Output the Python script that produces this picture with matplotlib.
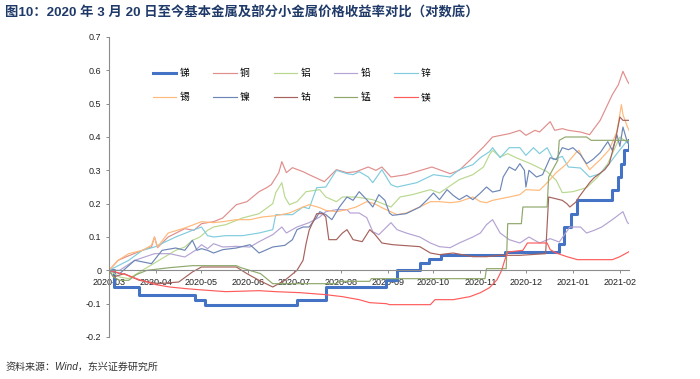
import matplotlib
matplotlib.use('Agg')
import matplotlib.pyplot as plt
import matplotlib.dates as mdates
from matplotlib.ticker import FixedLocator, FixedFormatter
import numpy as np
import pandas as pd

# ---------------- data ----------------
START = '2020-03-20'
END_DAY = 343  # last observation, days after START

names = ['锑', '铜', '铝', '铅', '锌', '锡', '镍', '钴', '锰', '镁']
colors = ['#4472C4', '#E08E8C', '#B9D88F', '#B4A3D3', '#80CCDE',
          '#FFB97A', '#6D86B6', '#A6625C', '#8FA86B', '#FF5B5B']

# 锑 (stepwise)
sb_days = [0, 3, 20, 57, 63, 124, 143, 183, 190, 205, 211, 219, 261, 297, 300, 305, 309, 332, 336, 338, 340, 343]
sb_vals = [0, -0.05, -0.075, -0.09, -0.105, -0.09, -0.05, -0.03, 0.0, 0.023, 0.035, 0.047, 0.054, 0.08, 0.13, 0.17, 0.21, 0.24, 0.28, 0.32, 0.36, 0.39]

# 铜
cu_days = [0, 6, 11, 22, 28, 30, 32, 39, 50, 56, 61, 69, 75, 84, 91, 99, 104, 107, 112, 114, 117, 121, 128, 132, 142, 150, 157, 163, 171, 176, 180, 186, 196, 213, 225, 231, 238, 247, 253, 264, 271, 275, 281, 284, 291, 294, 299, 303, 311, 317, 324, 332, 336, 339, 342, 343]
cu_vals = [0, 0.03, 0.04, 0.06, 0.07, 0.10, 0.068, 0.10, 0.125, 0.12, 0.14, 0.146, 0.157, 0.197, 0.206, 0.236, 0.248, 0.257, 0.293, 0.326, 0.293, 0.308, 0.296, 0.287, 0.266, 0.302, 0.293, 0.296, 0.31, 0.30, 0.31, 0.28, 0.287, 0.31, 0.29, 0.30, 0.33, 0.37, 0.40, 0.41, 0.42, 0.405, 0.42, 0.415, 0.446, 0.42, 0.425, 0.42, 0.415, 0.407, 0.45, 0.527, 0.557, 0.597, 0.567, 0.56]

# 铝
al_days = [0, 7, 13, 22, 33, 44, 50, 55, 60, 65, 69, 77, 88, 99, 108, 110, 114, 116, 119, 124, 130, 139, 143, 150, 154, 163, 174, 186, 192, 200, 212, 218, 231, 240, 247, 251, 253, 258, 263, 269, 278, 289, 295, 299, 306, 315, 322, 329, 334, 337, 342, 343]
al_vals = [0, -0.02, -0.025, 0.0, 0.03, 0.06, 0.07, 0.09, 0.10, 0.12, 0.13, 0.137, 0.157, 0.17, 0.20, 0.233, 0.263, 0.22, 0.197, 0.206, 0.236, 0.242, 0.22, 0.206, 0.22, 0.22, 0.212, 0.19, 0.22, 0.227, 0.242, 0.232, 0.272, 0.287, 0.31, 0.347, 0.36, 0.34, 0.35, 0.337, 0.32, 0.296, 0.27, 0.233, 0.236, 0.248, 0.278, 0.32, 0.37, 0.40, 0.383, 0.38]

# 铅
pb_days = [0, 7, 17, 30, 40, 50, 57, 61, 65, 69, 75, 84, 93, 99, 108, 114, 117, 124, 132, 139, 143, 150, 157, 159, 165, 170, 174, 178, 186, 190, 196, 205, 212, 218, 225, 231, 240, 245, 249, 253, 258, 264, 271, 277, 284, 291, 297, 304, 311, 315, 320, 325, 332, 339, 342, 343]
pb_vals = [0, 0.0, 0.03, 0.05, 0.05, 0.04, 0.06, 0.077, 0.065, 0.08, 0.07, 0.072, 0.07, 0.086, 0.107, 0.13, 0.112, 0.13, 0.143, 0.16, 0.176, 0.182, 0.182, 0.172, 0.172, 0.158, 0.116, 0.107, 0.143, 0.122, 0.112, 0.10, 0.082, 0.071, 0.068, 0.082, 0.10, 0.112, 0.137, 0.152, 0.112, 0.092, 0.082, 0.10, 0.082, 0.095, 0.085, 0.13, 0.13, 0.112, 0.12, 0.13, 0.152, 0.176, 0.143, 0.14]

# 锌
zn_days = [0, 13, 22, 30, 44, 55, 61, 65, 69, 77, 88, 99, 108, 110, 121, 128, 132, 137, 143, 150, 157, 161, 165, 171, 174, 180, 186, 190, 203, 214, 225, 231, 240, 245, 251, 253, 258, 264, 271, 275, 280, 284, 289, 293, 299, 303, 311, 317, 324, 330, 335, 342, 343]
zn_vals = [0, 0.03, 0.06, 0.07, 0.10, 0.12, 0.13, 0.104, 0.10, 0.104, 0.104, 0.112, 0.122, 0.167, 0.167, 0.19, 0.185, 0.248, 0.25, 0.30, 0.29, 0.287, 0.296, 0.28, 0.263, 0.302, 0.257, 0.25, 0.263, 0.287, 0.28, 0.302, 0.317, 0.338, 0.356, 0.368, 0.338, 0.368, 0.368, 0.345, 0.368, 0.35, 0.368, 0.332, 0.342, 0.31, 0.307, 0.28, 0.29, 0.32, 0.35, 0.39, 0.38]

# 锡
sn_days = [0, 6, 13, 22, 28, 30, 32, 39, 50, 61, 69, 75, 84, 93, 101, 110, 119, 128, 132, 139, 143, 150, 157, 163, 170, 175, 180, 190, 196, 205, 212, 218, 225, 231, 240, 245, 249, 253, 264, 271, 275, 284, 289, 295, 302, 308, 310, 313, 317, 324, 330, 335, 338, 339, 342, 343]
sn_vals = [0, 0.03, 0.05, 0.06, 0.075, 0.10, 0.07, 0.112, 0.127, 0.146, 0.143, 0.146, 0.152, 0.152, 0.16, 0.164, 0.172, 0.19, 0.197, 0.188, 0.18, 0.176, 0.182, 0.19, 0.206, 0.20, 0.188, 0.167, 0.172, 0.19, 0.206, 0.206, 0.203, 0.206, 0.22, 0.206, 0.203, 0.21, 0.22, 0.227, 0.242, 0.24, 0.263, 0.293, 0.32, 0.353, 0.36, 0.332, 0.302, 0.332, 0.362, 0.416, 0.497, 0.467, 0.43, 0.42]

# 镍
ni_days = [0, 7, 17, 28, 35, 44, 50, 55, 58, 61, 65, 69, 75, 84, 93, 99, 108, 116, 121, 124, 128, 132, 137, 139, 143, 147, 152, 157, 161, 165, 170, 174, 178, 182, 185, 187, 196, 205, 210, 214, 218, 223, 227, 231, 236, 240, 245, 249, 253, 258, 260, 264, 268, 271, 274, 275, 277, 282, 286, 291, 295, 299, 303, 306, 311, 315, 319, 324, 329, 332, 335, 337, 339, 342, 343]
ni_vals = [0, -0.01, 0.03, 0.02, 0.06, 0.067, 0.06, 0.09, 0.06, 0.065, 0.06, 0.052, 0.062, 0.067, 0.077, 0.052, 0.07, 0.075, 0.092, 0.122, 0.13, 0.13, 0.16, 0.176, 0.167, 0.152, 0.19, 0.22, 0.21, 0.236, 0.212, 0.19, 0.227, 0.21, 0.172, 0.165, 0.17, 0.19, 0.212, 0.232, 0.212, 0.242, 0.225, 0.212, 0.225, 0.212, 0.232, 0.25, 0.235, 0.24, 0.28, 0.31, 0.30, 0.32, 0.30, 0.25, 0.30, 0.28, 0.287, 0.338, 0.332, 0.368, 0.362, 0.368, 0.347, 0.32, 0.332, 0.353, 0.386, 0.36, 0.407, 0.372, 0.43, 0.383, 0.38]

# 钴
co_days = [0, 3, 10, 20, 33, 46, 55, 61, 84, 91, 99, 108, 116, 124, 128, 130, 132, 137, 141, 143, 145, 150, 154, 157, 161, 167, 172, 175, 180, 187, 205, 212, 218, 227, 240, 249, 258, 271, 288, 290, 299, 302, 304, 308, 310, 317, 320, 327, 330, 334, 337, 339, 343]
co_vals = [0, -0.02, -0.01, -0.03, -0.04, -0.035, -0.005, 0.01, 0.01, -0.01, -0.03, -0.05, -0.03, 0.0, 0.03, 0.08, 0.12, 0.17, 0.17, 0.16, 0.092, 0.092, 0.112, 0.122, 0.092, 0.086, 0.122, 0.11, 0.082, 0.077, 0.071, 0.052, 0.047, 0.052, 0.041, 0.041, 0.045, 0.045, 0.05, 0.22, 0.21, 0.20, 0.19, 0.205, 0.22, 0.263, 0.278, 0.302, 0.32, 0.39, 0.46, 0.45, 0.45]

# 锰
mn_days = [0, 3, 7, 13, 18, 25, 40, 55, 84, 87, 100, 108, 150, 152, 172, 173, 248, 249, 262, 263, 272, 273, 289, 290, 296, 297, 301, 315, 318, 343]
mn_vals = [0, -0.02, -0.03, -0.03, -0.013, 0.0, 0.008, 0.014, 0.014, 0.008, -0.01, -0.04, -0.04, -0.033, -0.033, -0.025, -0.025, 0.005, 0.005, 0.14, 0.14, 0.19, 0.19, 0.28, 0.33, 0.39, 0.40, 0.40, 0.39, 0.39]

# 镁
mg_days = [0, 11, 20, 31, 40, 51, 59, 77, 99, 110, 126, 143, 154, 165, 172, 183, 185, 212, 215, 227, 238, 245, 251, 256, 259, 261, 263, 273, 276, 289, 291, 295, 302, 309, 332, 337, 343]
mg_vals = [0, -0.013, -0.028, -0.043, -0.05, -0.055, -0.058, -0.064, -0.061, -0.064, -0.067, -0.073, -0.079, -0.088, -0.097, -0.10, -0.103, -0.103, -0.088, -0.088, -0.079, -0.067, -0.052, -0.028, 0.0, 0.03, 0.055, 0.06, 0.082, 0.082, 0.062, 0.052, 0.041, 0.032, 0.032, 0.041, 0.056]

series = {
    '锑': (sb_days, sb_vals), '铜': (cu_days, cu_vals), '铝': (al_days, al_vals),
    '铅': (pb_days, pb_vals), '锌': (zn_days, zn_vals), '锡': (sn_days, sn_vals),
    '镍': (ni_days, ni_vals), '钴': (co_days, co_vals), '锰': (mn_days, mn_vals),
    '镁': (mg_days, mg_vals),
}

y_ticks = [-0.2, -0.1, 0, 0.1, 0.2, 0.3, 0.4, 0.5, 0.6, 0.7]
y_ticklabels = ['-0.2', '-0.1', '0', '0.1', '0.2', '0.3', '0.4', '0.5', '0.6', '0.7']

title = '图10：2020 年 3 月 20 日至今基本金属及部分小金属价格收益率对比（对数底）'
source = '资料来源：Wind，东兴证券研究所'

# ---------------- drawing ----------------
plt.rcParams['font.family'] = ['Liberation Sans', 'Noto Sans CJK SC', 'DejaVu Sans']

start = np.datetime64(START)
fig = plt.figure(figsize=(7.0, 3.79), dpi=100)
ax = fig.add_axes([109 / 700, 1 - 337 / 379, 520 / 700, 300 / 379])

handles = {}
for name, col in zip(names, colors):
    d, v = series[name]
    x = start + np.array(d).astype('timedelta64[D]')
    if name == '锑':
        ln, = ax.plot(x, v, color=col, lw=2.2, drawstyle='steps-post', label=name)
    else:
        ln, = ax.plot(x, v, color=col, lw=0.85, label=name)
    handles[name] = ln

ax.set_xlim(start, start + np.timedelta64(END_DAY, 'D'))
ax.set_ylim(-0.2, 0.7)

tick_dates = pd.date_range(START, periods=12, freq=pd.DateOffset(months=1))
ax.xaxis.set_major_locator(FixedLocator(mdates.date2num(tick_dates.to_pydatetime())))
ax.xaxis.set_major_formatter(FixedFormatter([t.strftime('%Y-%m') for t in tick_dates]))
ax.yaxis.set_major_locator(FixedLocator(y_ticks))
ax.yaxis.set_major_formatter(FixedFormatter(y_ticklabels))

for s in ['top', 'right']:
    ax.spines[s].set_visible(False)
ax.spines['bottom'].set_position(('data', 0))
ax.spines['bottom'].set_color('#8C8C8C')
ax.spines['left'].set_color('#8C8C8C')
ax.spines['bottom'].set_linewidth(0.8)
ax.spines['left'].set_linewidth(0.8)
ax.tick_params(axis='x', direction='out', length=2.5, width=0.7, color='#8C8C8C', pad=3.2,
               labelsize=6.5, labelcolor='#222222')
ax.tick_params(axis='y', direction='out', length=2.5, width=0.7, color='#8C8C8C', pad=3,
               labelsize=6.5, labelcolor='#222222')

order = ['锑', '锡', '铜', '镍', '铝', '钴', '铅', '锰', '锌', '镁']
leg = ax.legend([handles[n] for n in order], order, ncol=5, loc='upper left',
                bbox_to_anchor=((153 - 109) / 520, 1 - (68.5 - 37.4) / 300),
                frameon=False, fontsize=7, handlelength=2.4, handletextpad=0.35,
                columnspacing=2.45, labelspacing=1.42, borderpad=0, borderaxespad=0)

fig.text(5 / 700, 1 - 13 / 379, title, fontsize=9.6, fontweight='bold', color='#1F3A68', va='center', ha='left')
fig.text(6 / 700, 1 - 367 / 379, source, fontsize=7.2, color='#333333', va='center', ha='left', style='italic')

fig.savefig('out.png', dpi=100)
